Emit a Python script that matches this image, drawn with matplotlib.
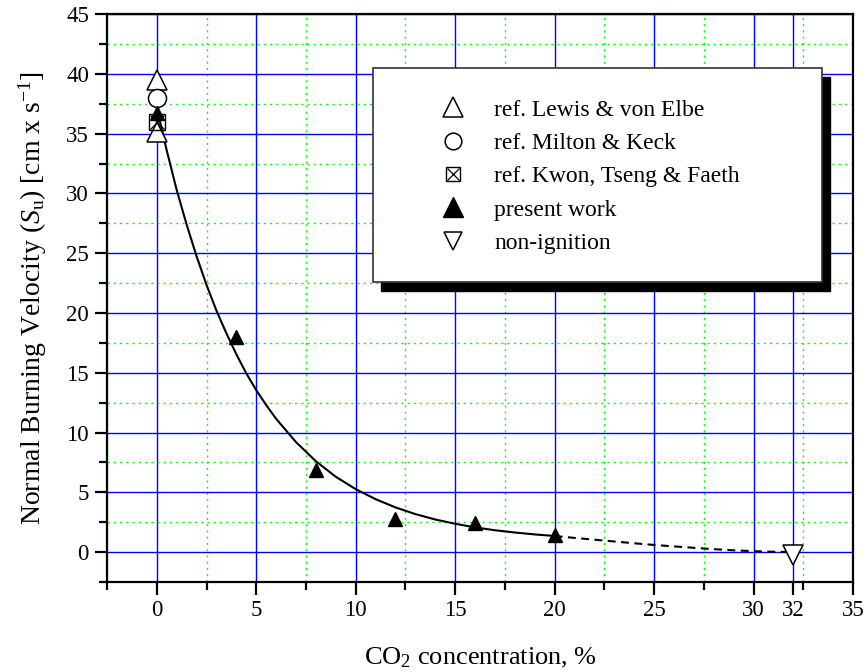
import matplotlib
matplotlib.use('Agg')
import matplotlib.pyplot as plt
from matplotlib.lines import Line2D
from matplotlib.patches import Rectangle
from matplotlib.ticker import MultipleLocator, FixedLocator

plt.rcParams['font.family'] = ['Liberation Serif', 'DejaVu Serif']
plt.rcParams['mathtext.fontset'] = 'custom'
plt.rcParams['mathtext.rm'] = 'Liberation Serif'
plt.rcParams['mathtext.it'] = 'Liberation Serif:italic'

# ---------------- data ----------------
lewis_x = [0, 0]
lewis_y = [39.5, 35.1]
milton_x = [0]
milton_y = [38.0]
kwon_x = [0]
kwon_y = [36.0]
present_x = [0, 4, 8, 12, 16, 20]
present_y = [36.7, 18.0, 6.9, 2.8, 2.45, 1.42]
nonign_x = [32]
nonign_y = [-0.2]

# fitted curve as drawn: solid part 0..20
fit_x = [0, 0.5, 1.0, 1.5, 2.0, 2.5, 3.0, 3.5, 4.0, 4.5, 5.0, 5.5, 6.0,
         7, 8, 9, 10, 11, 12, 13, 14, 15, 16, 17, 18, 19, 20]
fit_y = [37.2, 33.6, 30.3, 27.4, 24.75, 22.35, 20.2, 18.3, 16.55, 14.95, 13.55,
         12.3, 11.15, 9.2, 7.6, 6.3, 5.27, 4.43, 3.74, 3.18, 2.73, 2.37, 2.07,
         1.83, 1.64, 1.48, 1.35]
# dashed extrapolation 20..32
ext_x = [20, 21, 22, 23, 24, 25, 26, 27, 28, 29, 30, 31, 32]
ext_y = [1.35, 1.19, 1.04, 0.89, 0.74, 0.6, 0.48, 0.36, 0.25, 0.15, 0.08, 0.03, 0.0]

labels = ['ref. Lewis & von Elbe', 'ref. Milton & Keck',
          'ref. Kwon, Tseng & Faeth', 'present work', 'non-ignition']

x_major = [0, 5, 10, 15, 20, 25, 30, 32, 35]
# -------------------------------------------------------------

fig = plt.figure(figsize=(8.66, 6.72), dpi=100)
ax = fig.add_axes([0.1236, 0.1339, 0.8614, 0.8452])

ax.plot(fit_x, fit_y, color='black', lw=1.5, zorder=3)
ax.plot(ext_x, ext_y, color='black', lw=1.5, ls=(0, (3.8, 2.6)), zorder=3)

ax.plot(lewis_x, lewis_y, ls='none', marker='^', ms=15, mfc='white', mec='black', mew=1.1, zorder=4)
ax.plot(milton_x, milton_y, ls='none', marker='o', ms=13, mfc='white', mec='black', mew=1.1, zorder=4)
ax.plot(present_x, present_y, ls='none', marker='^', ms=10.5, color='black', zorder=5)
ax.plot(kwon_x, kwon_y, ls='none', marker='s', ms=11, mfc='none', mec='black', mew=1.0, zorder=6)
ax.plot(kwon_x, kwon_y, ls='none', marker='x', ms=10, mec='black', mew=0.9, zorder=6)
ax.plot(nonign_x, nonign_y, ls='none', marker='v', ms=15, mfc='white', mec='black', mew=1.1, zorder=4)

ax.set_xlim(-2.5, 35)
ax.set_ylim(-2.5, 45)
ax.xaxis.set_major_locator(FixedLocator(x_major))
ax.xaxis.set_minor_locator(MultipleLocator(2.5))
ax.yaxis.set_major_locator(MultipleLocator(5))
ax.yaxis.set_minor_locator(MultipleLocator(2.5))

ax.grid(which='major', color='#0000ff', lw=1.0, ls='-', zorder=0)
ax.grid(which='minor', color='#00ff00', lw=1.0, ls=(0, (1.5, 3)), zorder=0)
ax.set_axisbelow(True)

for s in ax.spines.values():
    s.set_linewidth(1.6)
ax.tick_params(which='major', direction='out', length=9, width=1.6,
               labelsize=16.5, top=False, right=False, pad=4)
ax.tick_params(which='minor', direction='out', length=5.5, width=1.6,
               top=False, right=False)

ax.set_xlabel('CO$_2$ concentration, %', fontsize=19, labelpad=18)
ax.set_ylabel('Normal Burning Velocity ($S_\\mathrm{u}$) [cm x s$^{-1}$]', fontsize=20, labelpad=12)

# legend box with hard black shadow
box = (0.3566, 0.528, 0.6018, 0.377)
ax.add_patch(Rectangle((box[0] + 0.011, box[1] - 0.016), box[2], box[3],
                       transform=ax.transAxes, facecolor='black', edgecolor='black',
                       zorder=7, clip_on=False))
ax.add_patch(Rectangle((box[0], box[1]), box[2], box[3], transform=ax.transAxes,
                       facecolor='white', edgecolor='#333333', lw=1.2, zorder=8,
                       clip_on=False))

sq = Line2D([], [], ls='none', marker='s', ms=10, mfc='white', mec='black', mew=1.0)
cross = Line2D([], [], ls='none', marker='x', ms=9, mec='black', mew=0.9)
handles = [
    Line2D([], [], ls='none', marker='^', ms=15, mfc='white', mec='black', mew=1.1),
    Line2D([], [], ls='none', marker='o', ms=12, mfc='white', mec='black', mew=1.1),
    (sq, cross),
    Line2D([], [], ls='none', marker='^', ms=15, color='black'),
    Line2D([], [], ls='none', marker='v', ms=13.5, mfc='white', mec='black', mew=1.1),
]
leg = ax.legend(handles, labels, loc='upper left', bbox_to_anchor=(0.441, 0.8503),
                frameon=False, fontsize=17, handlelength=1.4, handletextpad=1.06,
                labelspacing=0.5, borderpad=0, borderaxespad=0)
leg.set_zorder(9)

fig.savefig('out.png', dpi=100)
